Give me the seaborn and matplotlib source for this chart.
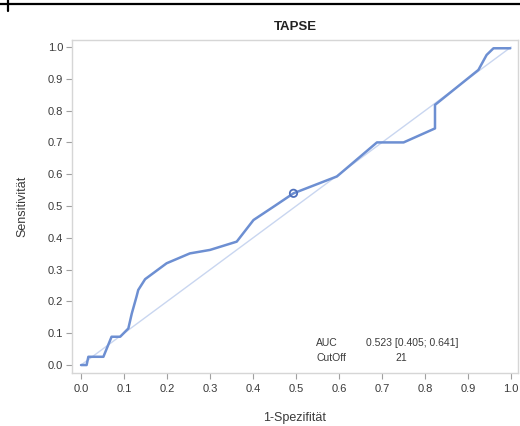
import matplotlib
matplotlib.use("Agg")
import matplotlib.pyplot as plt
from matplotlib.lines import Line2D
import seaborn as sns
import pandas as pd

# ROC curve for TAPSE: false positive rate vs. sensitivity
fpr = [0.0, 0.013, 0.017, 0.052, 0.071, 0.091, 0.11, 0.118, 0.129, 0.133,
       0.149, 0.199, 0.253, 0.30, 0.362, 0.401, 0.45, 0.494, 0.595, 0.688,
       0.75, 0.823, 0.823, 0.924, 0.943, 0.959, 0.998]
tpr = [0.0, 0.0, 0.026, 0.026, 0.089, 0.089, 0.115, 0.162, 0.215, 0.236,
       0.27, 0.32, 0.351, 0.362, 0.388, 0.456, 0.50, 0.54, 0.593, 0.70,
       0.70, 0.744, 0.818, 0.928, 0.975, 0.996, 0.996]

# optimal cut-off point
cut_fpr = [0.494]
cut_tpr = [0.54]

diag = [0.0, 1.0]
ticks = [0.0, 0.1, 0.2, 0.3, 0.4, 0.5, 0.6, 0.7, 0.8, 0.9, 1.0]
tick_labels = ["0.0", "0.1", "0.2", "0.3", "0.4", "0.5", "0.6", "0.7", "0.8", "0.9", "1.0"]

auc_text = "0.523 [0.405; 0.641]"
cutoff_text = "21"

sns.set_theme(style="white")
plt.rcParams["font.family"] = ["Liberation Sans", "DejaVu Sans"]

fig = plt.figure(figsize=(5.2, 4.26), dpi=100)
ax = fig.add_axes([72 / 520, 1 - 373 / 426, (518 - 72) / 520, (373 - 40) / 426])

curve_color = "#6d8fd2"
diag_color = "#c9d6f0"
text_color = "#3a3a3a"

roc = pd.DataFrame({"fpr": fpr, "tpr": tpr})
sns.lineplot(x=diag, y=diag, ax=ax, color=diag_color, linewidth=1.0)
sns.lineplot(data=roc, x="fpr", y="tpr", sort=False, estimator=None, ax=ax,
             color=curve_color, linewidth=1.8)
sns.scatterplot(x=cut_fpr, y=cut_tpr, ax=ax, s=28, marker="o",
                facecolor="none", edgecolor="#4f70bb", linewidth=1.3, zorder=5)

ax.set_xlim(-0.021, 1.016)
ax.set_ylim(-0.025, 1.022)
ax.set_xticks(ticks)
ax.set_xticklabels(tick_labels)
ax.set_yticks(ticks)
ax.set_yticklabels(tick_labels)
ax.tick_params(axis="both", which="both", direction="out", length=4, width=0.8,
               color="#a0a0a0", labelsize=8, labelcolor=text_color, pad=2.5,
               bottom=True, left=True)
ax.tick_params(axis="x", pad=4)
for sp in ax.spines.values():
    sp.set_color("#d6d6d6")
    sp.set_linewidth(1.0)

ax.set_xlabel("1-Spezifität", fontsize=9, color=text_color, labelpad=13)
ax.set_ylabel("Sensitivität", fontsize=9, color=text_color, labelpad=14)
ax.set_title("TAPSE", fontsize=9.5, fontweight="bold", color="#222222", pad=7)

ax.text(0.547, 0.069, "AUC", fontsize=7.5, color=text_color, va="center")
ax.text(0.662, 0.069, auc_text, fontsize=7.5, color=text_color, va="center")
ax.text(0.547, 0.022, "CutOff", fontsize=7.5, color=text_color, va="center")
ax.text(0.730, 0.022, cutoff_text, fontsize=7.5, color=text_color, va="center")

# table rule across the top of the page
fig.add_artist(Line2D([0, 1], [1 - 4 / 426, 1 - 4 / 426], transform=fig.transFigure,
                      color="black", linewidth=1.6))
fig.add_artist(Line2D([8 / 520, 8 / 520], [1, 1 - 11 / 426], transform=fig.transFigure,
                      color="black", linewidth=1.6))

fig.savefig("out.png", dpi=100)
